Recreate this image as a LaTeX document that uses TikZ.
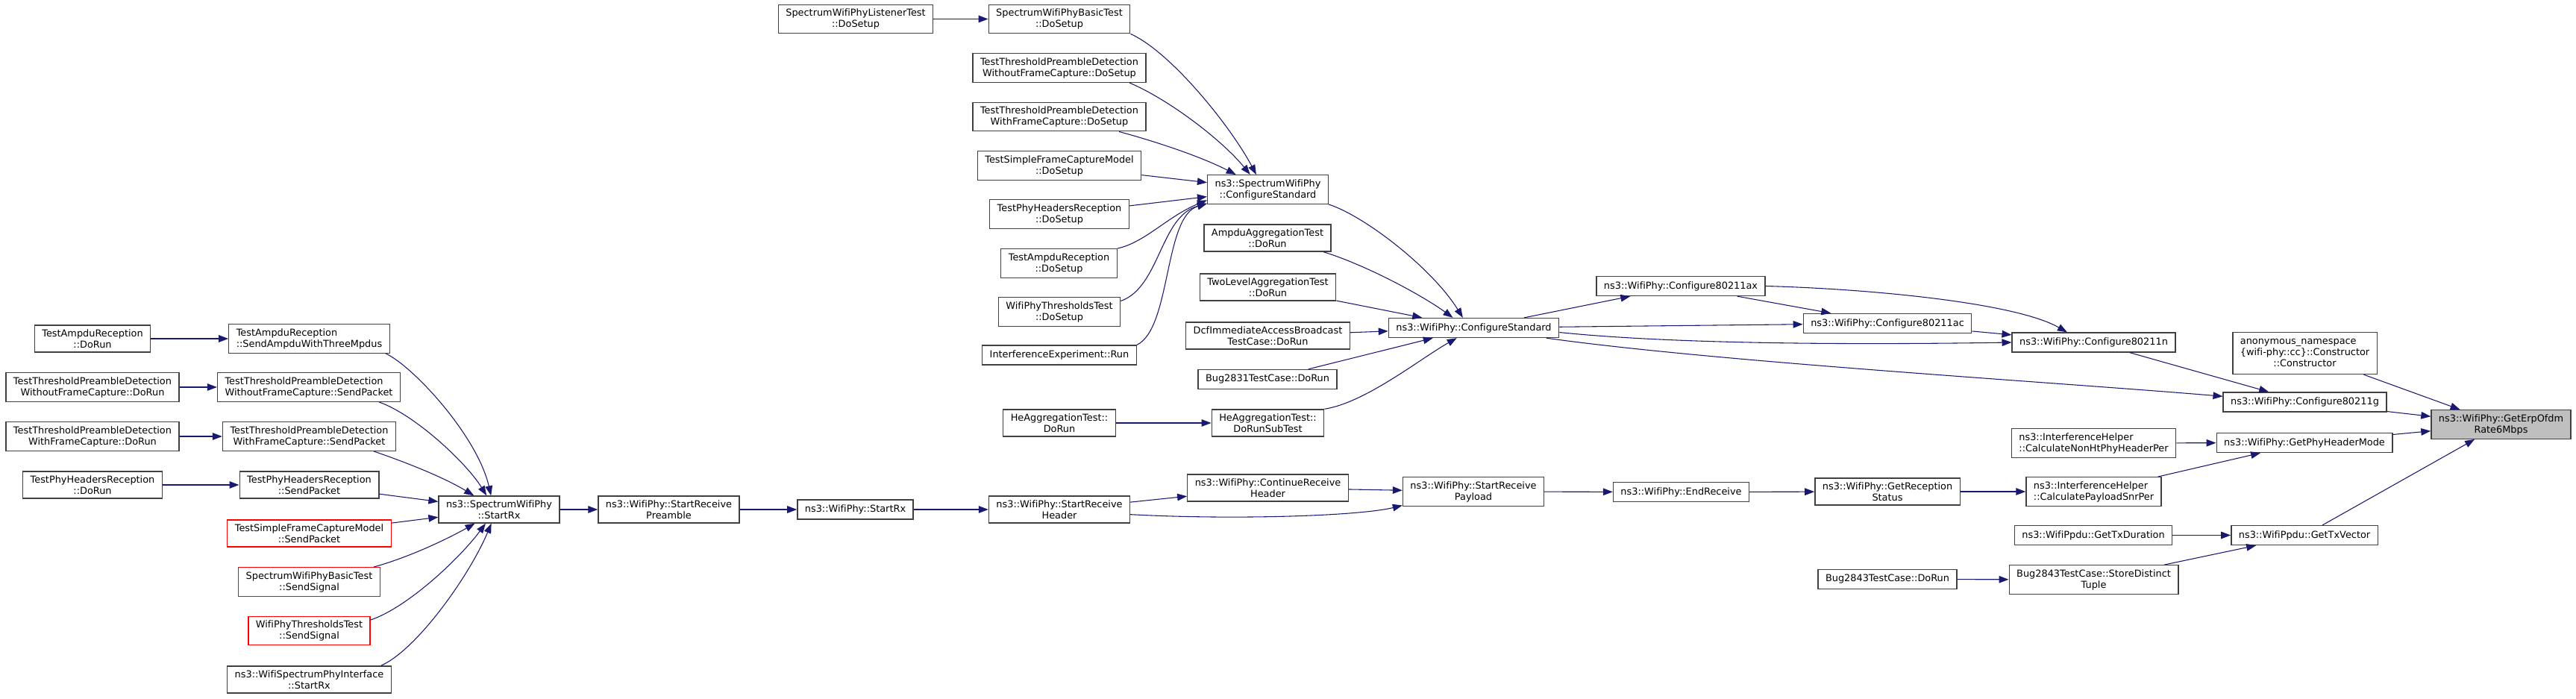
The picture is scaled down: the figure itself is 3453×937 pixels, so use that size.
\documentclass[tikz,border=0pt]{standalone}
\usepackage{fontspec}
\setmainfont{DejaVu Sans}[Ligatures=NoCommon]
\usetikzlibrary{arrows.meta}
\definecolor{edgeblue}{HTML}{191970}
\definecolor{nodegrey}{HTML}{404040}
\definecolor{rootfill}{HTML}{BFBFBF}
\begin{document}
\begin{tikzpicture}[x=0.75pt, y=-0.75pt,
  every node/.style={font=\fontsize{9.66}{11.2}\selectfont},
  fn/.style={draw=nodegrey, line width=1pt, fill=white, rectangle, inner xsep=7.5pt, inner ysep=4.2pt, minimum height=19.5pt, align=center},
  trunc/.style={fn, draw=red},
  root/.style={fn, fill=rootfill},
  call/.style={draw=edgeblue, line width=0.8pt, -{Triangle[length=9.75pt,width=7.2pt]}}]
  \useasboundingbox (0,0) rectangle (3453,937);
  \node[fn] (tarDoRun) at (124,454) {TestAmpduReception\\::DoRun};
  \node[fn] (ttpdWoDoRun) at (124,519) {TestThresholdPreambleDetection\\WithoutFrameCapture::DoRun};
  \node[fn] (ttpdWDoRun) at (124,585) {TestThresholdPreambleDetection\\WithFrameCapture::DoRun};
  \node[fn] (tphrDoRun) at (124,650) {TestPhyHeadersReception\\::DoRun};
  \node[fn, align=left] (tarSend) at (414.5,454) {TestAmpduReception\\::SendAmpduWithThreeMpdus};
  \node[fn, align=left] (ttpdWoSend) at (414,519) {TestThresholdPreambleDetection\\WithoutFrameCapture::SendPacket};
  \node[fn] (ttpdWSend) at (414.5,585) {TestThresholdPreambleDetection\\WithFrameCapture::SendPacket};
  \node[fn] (tphrSend) at (414.5,650) {TestPhyHeadersReception\\::SendPacket};
  \node[trunc] (tsfcmSend) at (414.5,715) {TestSimpleFrameCaptureModel\\::SendPacket};
  \node[trunc] (basicSignal) at (414.5,780) {SpectrumWifiPhyBasicTest\\::SendSignal};
  \node[trunc] (thrSignal) at (414.5,845.5) {WifiPhyThresholdsTest\\::SendSignal};
  \node[fn] (wspiRx) at (414.5,911) {ns3::WifiSpectrumPhyInterface\\::StartRx};
  \node[fn] (sRx) at (669,683) {ns3::SpectrumWifiPhy\\::StartRx};
  \node[fn] (preamble) at (896.5,683) {ns3::WifiPhy::StartReceive\\Preamble};
  \node[fn] (wRx) at (1146.5,683) {ns3::WifiPhy::StartRx};
  \node[fn] (header) at (1420,683) {ns3::WifiPhy::StartReceive\\Header};
  \node[fn] (contHeader) at (1699.5,654) {ns3::WifiPhy::ContinueReceive\\Header};
  \node[fn] (payload) at (1975,659) {ns3::WifiPhy::StartReceive\\Payload};
  \node[fn] (endRx) at (2253.5,659.5) {ns3::WifiPhy::EndReceive};
  \node[fn] (rxStatus) at (2530,659) {ns3::WifiPhy::GetReception\\Status};
  \node[fn, align=left] (snrPer) at (2806.5,659) {ns3::InterferenceHelper\\::CalculatePayloadSnrPer};
  \node[fn, align=left] (nonHtPer) at (2806.5,594) {ns3::InterferenceHelper\\::CalculateNonHtPhyHeaderPer};
  \node[fn] (hdrMode) at (3089,593.5) {ns3::WifiPhy::GetPhyHeaderMode};
  \node[root] (erp) at (3352.5,569) {ns3::WifiPhy::GetErpOfdm\\Rate6Mbps};
  \node[fn] (txDur) at (2806,717.5) {ns3::WifiPpdu::GetTxDuration};
  \node[fn] (txVec) at (3089,717.5) {ns3::WifiPpdu::GetTxVector};
  \node[fn] (bug2843) at (2530,776.5) {Bug2843TestCase::DoRun};
  \node[fn] (tuple) at (2806.5,777) {Bug2843TestCase::StoreDistinct\\Tuple};
  \node[fn] (ctor) at (3089.5,473.5) {\begin{tabular}{@{}l@{}}anonymous\_namespace\\\{wifi-phy::cc\}::Constructor\\\multicolumn{1}{@{}c@{}}{::Constructor}\end{tabular}};
  \node[fn] (listener) at (1147,25.5) {SpectrumWifiPhyListenerTest\\::DoSetup};
  \node[fn] (basicSetup) at (1420,25.5) {SpectrumWifiPhyBasicTest\\::DoSetup};
  \node[fn] (ttpdWoSetup) at (1420,91) {TestThresholdPreambleDetection\\WithoutFrameCapture::DoSetup};
  \node[fn] (ttpdWSetup) at (1420,156.5) {TestThresholdPreambleDetection\\WithFrameCapture::DoSetup};
  \node[fn] (tsfcmSetup) at (1420,222) {TestSimpleFrameCaptureModel\\::DoSetup};
  \node[fn] (tphrSetup) at (1420,287) {TestPhyHeadersReception\\::DoSetup};
  \node[fn] (tarSetup) at (1419.5,353) {TestAmpduReception\\::DoSetup};
  \node[fn] (thrSetup) at (1420,418) {WifiPhyThresholdsTest\\::DoSetup};
  \node[fn] (ieRun) at (1420,476) {InterferenceExperiment::Run};
  \node[fn] (heDoRun) at (1420,567) {HeAggregationTest::\\DoRun};
  \node[fn] (sCS) at (1699.5,254) {ns3::SpectrumWifiPhy\\::ConfigureStandard};
  \node[fn] (ampduAgg) at (1699,319) {AmpduAggregationTest\\::DoRun};
  \node[fn] (twoLevel) at (1699.5,385) {TwoLevelAggregationTest\\::DoRun};
  \node[fn] (dcf) at (1699.5,450) {DcfImmediateAccessBroadcast\\TestCase::DoRun};
  \node[fn] (bug2831) at (1699,508.5) {Bug2831TestCase::DoRun};
  \node[fn] (heSub) at (1699.5,567) {HeAggregationTest::\\DoRunSubTest};
  \node[fn] (wCS) at (1975.5,439.5) {ns3::WifiPhy::ConfigureStandard};
  \node[fn] (c11ax) at (2253,383.5) {ns3::WifiPhy::Configure80211ax};
  \node[fn] (c11ac) at (2530,433.5) {ns3::WifiPhy::Configure80211ac};
  \node[fn] (c11n) at (2806.5,459) {ns3::WifiPhy::Configure80211n};
  \node[fn] (c11g) at (3089.5,539) {ns3::WifiPhy::Configure80211g};
  \foreach \a/\b in {tarDoRun/tarSend, ttpdWoDoRun/ttpdWoSend, ttpdWDoRun/ttpdWSend, tphrDoRun/tphrSend,
      tphrSend/sRx, tsfcmSend/sRx, sRx/preamble, preamble/wRx, wRx/header, header/contHeader,
      contHeader/payload, payload/endRx, endRx/rxStatus, rxStatus/snrPer, snrPer/hdrMode, nonHtPer/hdrMode,
      hdrMode/erp, txDur/txVec, bug2843/tuple, tuple/txVec, txVec/erp, ctor/erp, c11g/erp,
      listener/basicSetup, tsfcmSetup/sCS, tphrSetup/sCS, twoLevel/wCS, dcf/wCS, bug2831/wCS,
      heDoRun/heSub, wCS/c11ax, wCS/c11ac, c11ax/c11ac, c11ac/c11n, c11n/c11g} {
    \draw[call] (\a) -- (\b);
  }
  \draw[call] (tarSend.-11) .. controls (555,492) and (640,585) .. (sRx.120);
  \draw[call] (ttpdWoSend.-12) .. controls (555,555) and (625,620) .. (sRx.132);
  \draw[call] (ttpdWSend.-13) .. controls (545,620) and (595,640) .. (sRx.151);
  \draw[call] (basicSignal.13) .. controls (545,748) and (595,725) .. (sRx.-150);
  \draw[call] (thrSignal.10) .. controls (545,815) and (615,750) .. (sRx.-134);
  \draw[call] (wspiRx.11) .. controls (560,870) and (630,770) .. (sRx.-119);
  \draw[call] (basicSetup.south east) .. controls (1570,70) and (1650,170) .. (sCS.128);
  \draw[call] (ttpdWoSetup.-12) .. controls (1570,135) and (1640,190) .. (sCS.140);
  \draw[call] (ttpdWSetup.-14) .. controls (1550,190) and (1610,210) .. (sCS.155);
  \draw[call] (tarSetup.north east) .. controls (1535,325) and (1565,290) .. (sCS.-170);
  \draw[call] (thrSetup.10) .. controls (1555,385) and (1555,290) .. (sCS.-167);
  \draw[call] (ieRun.north east) .. controls (1570,440) and (1560,290) .. (sCS.-167);
  \draw[call] (sCS.south east) .. controls (1830,290) and (1920,360) .. (wCS.137);
  \draw[call] (ampduAgg.-14) .. controls (1830,355) and (1905,395) .. (wCS.154);
  \draw[call] (heSub.north east) .. controls (1830,540) and (1905,480) .. (wCS.-149);
  \draw[call] (wCS.-3) .. controls (2250,462) and (2500,462) .. (c11n.west);
  \draw[call] (wCS.-8) .. controls (2300,485) and (2750,512) .. (c11g.176);
  \draw[call] (c11ax.east) .. controls (2500,387) and (2700,405) .. (c11n.159);
  \draw[call] (header.-4) .. controls (1650,697) and (1820,692) .. (payload.-169);
\end{tikzpicture}
\end{document}
